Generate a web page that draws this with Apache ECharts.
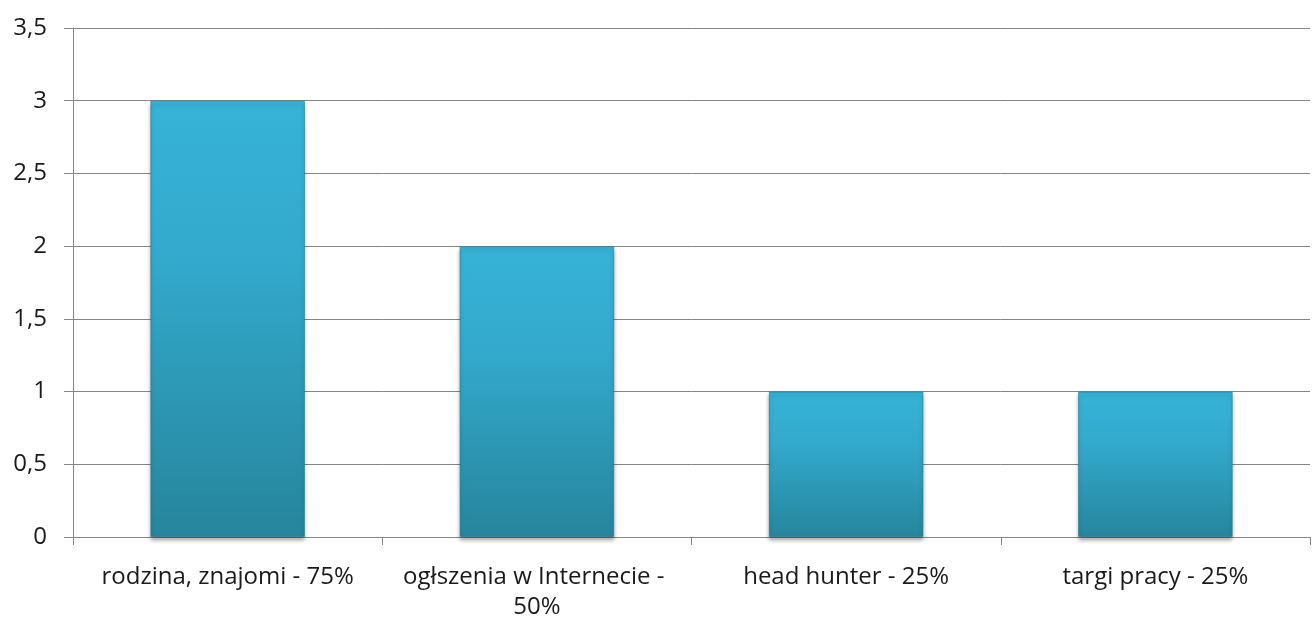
<!DOCTYPE html>
<html>
<head>
<meta charset="utf-8">
<script src="https://cdn.jsdelivr.net/npm/echarts@6/dist/echarts.min.js"></script>
<style>
  html, body { margin: 0; padding: 0; background: #fff; }
  #main { width: 1314px; height: 622px; }
</style>
</head>
<body>
<div id="main"></div>
<script>
// kategorie i wartosci
var categories = ['rodzina, znajomi - 75%', 'ogłszenia w Internecie - 50%', 'head hunter - 25%', 'targi pracy - 25%'];
var values = [3, 2, 1, 1];
var yMin = 0, yMax = 3.5, yStep = 0.5;

var chart = echarts.init(document.getElementById('main'));

var option = {
  animation: false,
  grid: { left: 73, right: 4, top: 28, bottom: 85 },
  xAxis: [{
    type: 'category',
    data: categories,
    axisLine: { lineStyle: { color: '#868686', width: 1 } },
    axisTick: { show: true, length: 8, alignWithLabel: false, lineStyle: { color: '#868686' } },
    axisLabel: {
      color: '#1a1a1a',
      fontFamily: 'Open Sans',
      fontSize: 24,
      margin: 25,
      lineHeight: 30,
      interval: 0,
      width: 290,
      overflow: 'break'
    }
  }],
  yAxis: [{
    type: 'value',
    min: yMin,
    max: yMax,
    interval: yStep,
    axisLine: { show: true, lineStyle: { color: '#868686' } },
    axisTick: { show: true, length: 9, lineStyle: { color: '#868686' } },
    splitLine: { lineStyle: { color: '#868686', width: 1 } },
    axisLabel: {
      color: '#1a1a1a',
      fontFamily: 'Open Sans',
      fontSize: 24,
      margin: 26,
      formatter: function (v) { return String(v).replace('.', ','); }
    }
  }],
  series: [{
    type: 'bar',
    data: values,
    barWidth: '50%',
    itemStyle: {
      color: new echarts.graphic.LinearGradient(0, 0, 0, 1, [
        { offset: 0, color: '#36b3d7' },
        { offset: 0.35, color: '#33aacd' },
        { offset: 1, color: '#27859c' }
      ]),
      borderColor: 'rgba(30,120,145,0.6)',
      borderWidth: 1,
      shadowColor: 'rgba(0,0,0,0.35)',
      shadowBlur: 4,
      shadowOffsetY: 3
    }
  }]
};

chart.setOption(option);
</script>
</body>
</html>
